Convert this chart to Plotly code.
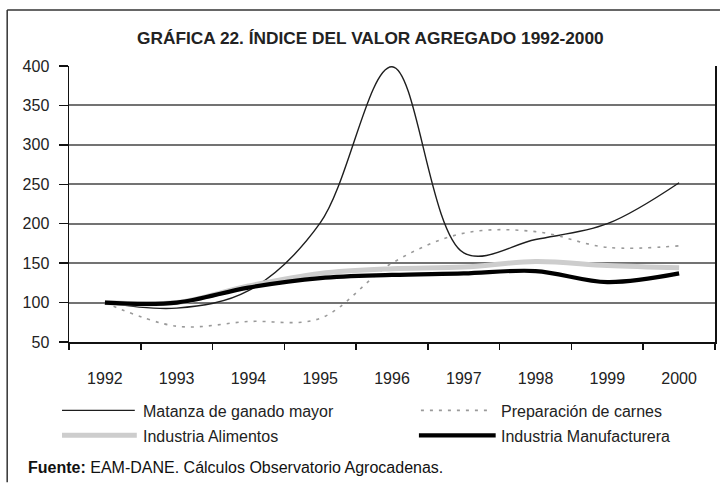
import plotly.graph_objects as go

years = ["1992", "1993", "1994", "1995", "1996", "1997", "1998", "1999", "2000"]
matanza = [100, 93, 115, 201, 399, 163, 180, 200, 252]
preparacion = [100, 70, 76, 80, 150, 188, 190, 170, 172]
alimentos = [100, 100, 121, 137, 143, 145, 152, 147, 144]
manufacturera = [100, 100, 119, 131, 135, 137, 140, 126, 137]

names = ["Matanza de ganado mayor", "Preparación de carnes",
         "Industria Alimentos", "Industria Manufacturera"]
title_text = "GRÁFICA 22. ÍNDICE DEL VALOR AGREGADO 1992-2000"
source_text = "<b>Fuente:</b> EAM-DANE. Cálculos Observatorio Agrocadenas."

W, H = 722, 483
L, R, T, B = 69, 717, 66, 342.5
FONT = "Liberation Sans, Arial, sans-serif"

def px(x):
    return (x - L) / (R - L)

def py(y):
    return (B - y) / (B - T)

styles = [
    dict(color="#1e1e1e", width=1.4),
    dict(color="#9a9a9a", width=1.6, dash="3px,6px"),
    dict(color="#cdcdcd", width=5),
    dict(color="#000000", width=4.2),
]
series = [matanza, preparacion, alimentos, manufacturera]

fig = go.Figure()
for nm, vals, st in zip(names, series, styles):
    fig.add_trace(go.Scatter(x=years, y=vals, name=nm, mode="lines",
                             line=dict(shape="spline", smoothing=1, **st),
                             showlegend=False, hoverinfo="skip"))

# legend drawn manually to match sample lengths
legend_rows = [
    (0, 62, 135, 141, 411),
    (1, 422, 494, 500, 411),
    (2, 62, 137, 141, 436),
    (3, 420, 497, 500, 436),
]
shapes = []
annotations = []
for idx, x0, x1, xt, yy in legend_rows:
    st = styles[idx]
    shapes.append(dict(type="line", xref="paper", yref="paper",
                       x0=px(x0), x1=px(x1), y0=py(yy), y1=py(yy),
                       line=dict(color=st["color"], width=st["width"],
                                 dash=st.get("dash", "solid"))))
    annotations.append(dict(text=names[idx], xref="paper", yref="paper",
                            x=px(xt), y=py(yy + 1), xanchor="left", yanchor="middle",
                            showarrow=False, font=dict(size=16, color="#222", family=FONT)))

# outer frame (left and top edges visible)
shapes.append(dict(type="line", xref="paper", yref="paper",
                   x0=px(7), x1=px(722), y0=py(10), y1=py(10),
                   line=dict(color="#333", width=1.5)))
shapes.append(dict(type="line", xref="paper", yref="paper",
                   x0=px(7), x1=px(7), y0=py(10), y1=py(483),
                   line=dict(color="#333", width=1.5)))

annotations.append(dict(text="<b>" + title_text + "</b>", xref="paper", yref="paper",
                        x=px(371), y=py(38), xanchor="center", yanchor="middle",
                        showarrow=False, font=dict(size=17.3, color="#222", family=FONT)))
annotations.append(dict(text=source_text, xref="paper", yref="paper",
                        x=px(26), y=py(468), xanchor="left", yanchor="middle",
                        showarrow=False, font=dict(size=16, color="#111", family=FONT)))

fig.update_layout(
    width=W, height=H,
    margin=dict(l=L, r=W - R, t=T, b=H - B, pad=0),
    paper_bgcolor="white", plot_bgcolor="white",
    font=dict(family=FONT, size=16, color="#222"),
    shapes=shapes, annotations=annotations,
    showlegend=False,
)
fig.update_xaxes(type="category", range=[-0.5, 8.5], tickson="boundaries",
                 ticks="outside", ticklen=6, tickwidth=1.5, tickcolor="#111",
                 showline=True, linecolor="#111", linewidth=1.5, mirror=False,
                 showgrid=False, ticklabelstandoff=21,
                 tickfont=dict(size=16, family=FONT, color="#222"))
fig.update_yaxes(range=[50, 400], dtick=50, tick0=50,
                 ticks="outside", ticklen=9, tickwidth=1.5, tickcolor="#111",
                 showline=True, linecolor="#111", linewidth=1.5, mirror=True,
                 showgrid=True, gridcolor="#737373", gridwidth=2,
                 zeroline=False, ticklabelstandoff=6,
                 tickfont=dict(size=16, family=FONT, color="#222"))

fig.write_html("out.html", config={"displayModeBar": False, "staticPlot": True},
               post_script="document.body.style.margin='0';document.body.style.overflow='hidden';")
